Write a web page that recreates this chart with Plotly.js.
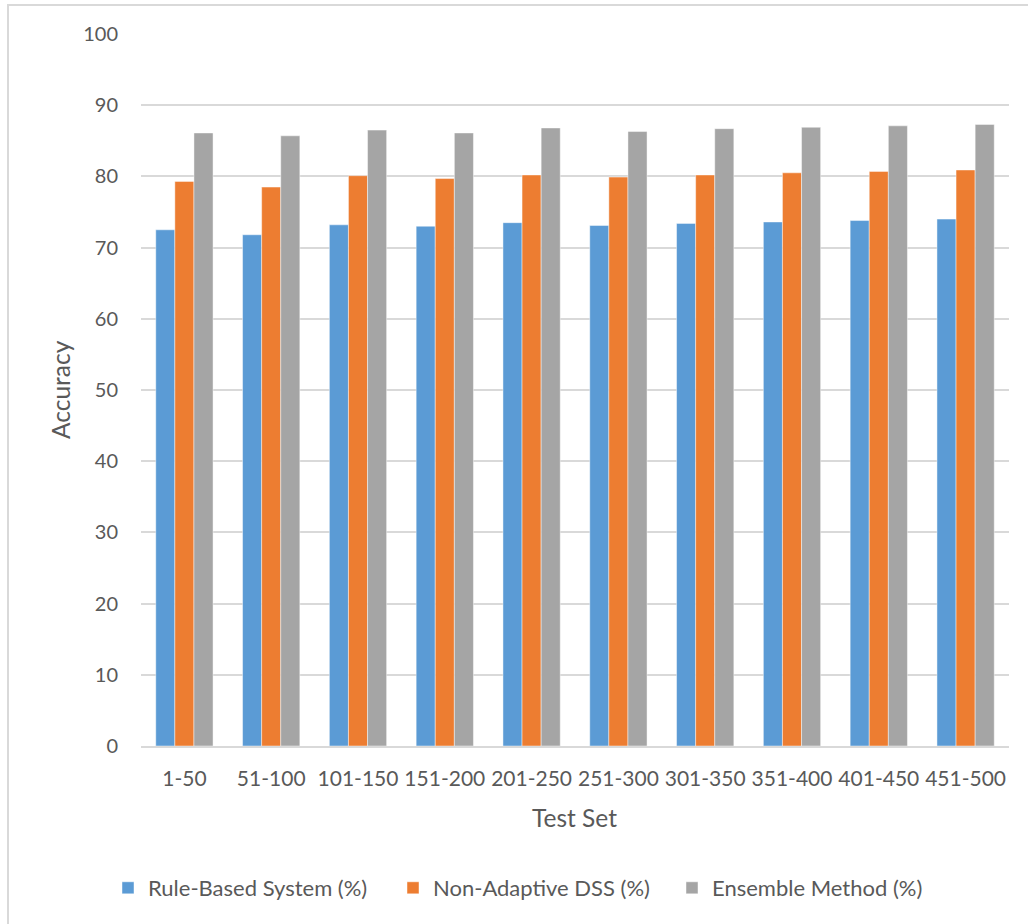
<!DOCTYPE html>
<html>
<head>
<meta charset="utf-8">
<script src="https://cdn.plot.ly/plotly-3.0.1.min.js"></script>
<style>
  html, body { margin: 0; padding: 0; background: #ffffff; }
  #frame { position: absolute; left: 0; top: 0; width: 1028px; height: 924px; }
  #edge {
    position: absolute; left: 7px; top: 4px; width: 1030px; height: 930px;
    border-left: 2px solid #d9d9d9; border-top: 2px solid #d9d9d9;
    pointer-events: none; z-index: 5;
  }
  #chart { position: absolute; left: 0; top: 0; width: 1028px; height: 924px; }
</style>
</head>
<body>
<div id="frame">
  <div id="chart"></div>
  <div id="edge"></div>
</div>
<script>
// Accuracy per test set for the three approaches
const testSets = ["1-50", "51-100", "101-150", "151-200", "201-250",
                  "251-300", "301-350", "351-400", "401-450", "451-500"];
const ruleBased   = [72.5, 71.8, 73.2, 73.0, 73.5, 73.1, 73.4, 73.6, 73.8, 74.0];
const nonAdaptive = [79.3, 78.5, 80.1, 79.7, 80.2, 79.9, 80.2, 80.5, 80.7, 80.9];
const ensemble    = [86.1, 85.7, 86.5, 86.1, 86.8, 86.3, 86.7, 86.9, 87.1, 87.3];
const yTicks = [0, 10, 20, 30, 40, 50, 60, 70, 80, 90, 100];

const textColor = "#595959";
const fontFamily = "Lato, 'Open Sans', sans-serif";

// plot area in pixels, used to place the legends and axis titles
const plotLeft = 141, plotRight = 1009, plotTop = 34, plotBottom = 746;
const plotW = plotRight - plotLeft, plotH = plotBottom - plotTop;
const px = v => (v - plotLeft) / plotW;
const py = v => (plotBottom - v) / plotH;

function barTrace(name, values, color, legendId) {
  return {
    type: "bar",
    name: name,
    x: testSets,
    y: values,
    legend: legendId,
    marker: { color: color, line: { color: "rgba(255,255,255,0.6)", width: 0.75 } },
    hoverinfo: "x+y+name"
  };
}

const data = [
  barTrace("Rule-Based System (%)", ruleBased, "#5b9bd5", "legend"),
  barTrace("Non-Adaptive DSS (%)", nonAdaptive, "#ed7d31", "legend2"),
  barTrace("Ensemble Method (%)", ensemble, "#a5a5a5", "legend3")
];

function legendAt(xPix) {
  return {
    orientation: "h",
    x: px(xPix), xanchor: "left",
    y: py(888), yanchor: "middle",
    font: { size: 22, color: textColor, family: fontFamily },
    itemwidth: 30,
    bgcolor: "rgba(0,0,0,0)"
  };
}

const layout = {
  width: 1028,
  height: 924,
  margin: { l: plotLeft, r: 1028 - plotRight, t: plotTop, b: 924 - plotBottom, autoexpand: false },
  paper_bgcolor: "#ffffff",
  plot_bgcolor: "#ffffff",
  font: { family: fontFamily, color: textColor, size: 20 },
  barmode: "group",
  bargap: 0.34,
  bargroupgap: 0,
  showlegend: true,
  legend: legendAt(108),
  legend2: legendAt(393),
  legend3: legendAt(672),
  xaxis: {
    type: "category",
    showgrid: false,
    showline: true,
    linecolor: "#d9d9d9",
    linewidth: 2,
    ticks: "",
    ticklabelstandoff: 13,
    tickfont: { size: 21, color: textColor },
    automargin: false
  },
  yaxis: {
    range: [0, 100],
    tickvals: yTicks,
    showgrid: true,
    gridcolor: "#d9d9d9",
    gridwidth: 1.5,
    zeroline: false,
    showline: false,
    ticks: "",
    ticklabelstandoff: 22,
    tickfont: { size: 20, color: textColor },
    automargin: false
  },
  annotations: [
    {
      text: "Test Set",
      xref: "paper", yref: "paper",
      x: px(574), y: py(817),
      xanchor: "center", yanchor: "middle",
      showarrow: false,
      font: { size: 24.5, color: textColor }
    },
    {
      text: "Accuracy",
      xref: "paper", yref: "paper",
      x: px(60), y: py(390),
      xanchor: "center", yanchor: "middle",
      textangle: -90,
      showarrow: false,
      font: { size: 24.5, color: textColor }
    }
  ]
};

Plotly.newPlot("chart", data, layout, { displayModeBar: false });
</script>
</body>
</html>
